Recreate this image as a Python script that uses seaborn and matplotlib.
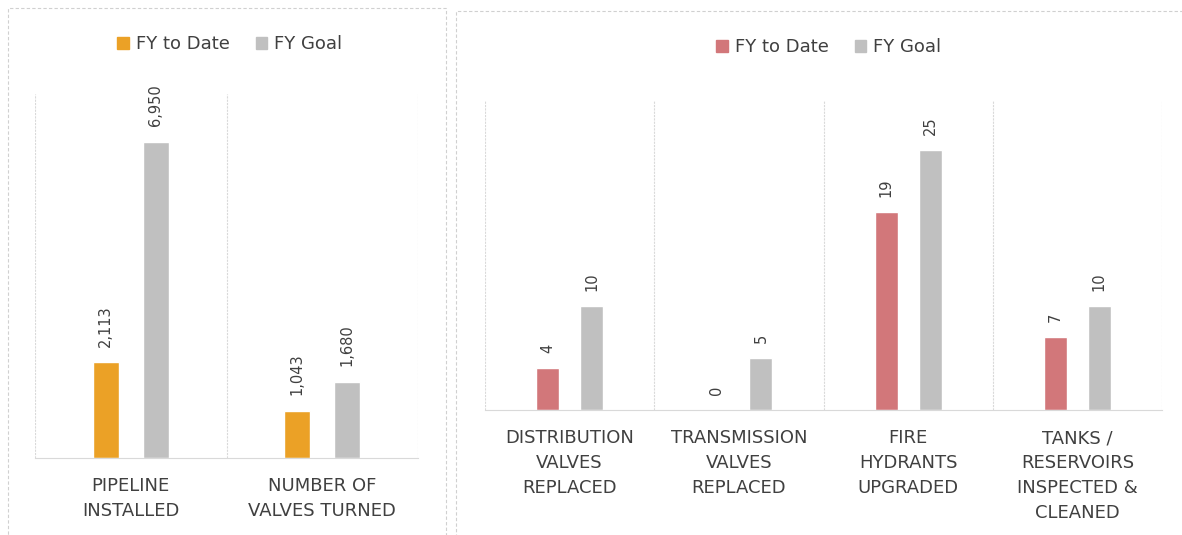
import pandas as pd
import numpy as np
import matplotlib.pyplot as plt
import seaborn as sns
from matplotlib.patches import Rectangle

# data
series = ['FY to Date', 'FY Goal']

left_cats = ['PIPELINE\nINSTALLED', 'NUMBER OF\nVALVES TURNED']
left_to_date = [2113, 1043]
left_goal = [6950, 1680]

right_cats = ['DISTRIBUTION\nVALVES\nREPLACED', 'TRANSMISSION\nVALVES\nREPLACED',
              'FIRE\nHYDRANTS\nUPGRADED', 'TANKS /\nRESERVOIRS\nINSPECTED &\nCLEANED']
right_to_date = [4, 0, 19, 7]
right_goal = [10, 5, 25, 10]

orange = '#EBA126'
pink = '#D2777A'
grey = '#C0C0C0'
text_col = '#404040'
line_col = '#D9D9D9'


def long_df(cats, a, b):
    return pd.DataFrame({
        'category': cats * 2,
        'series': [series[0]] * len(cats) + [series[1]] * len(cats),
        'value': list(a) + list(b),
    })


sns.set_theme(style='white')
plt.rcParams['font.family'] = ['DejaVu Sans']

fig = plt.figure(figsize=(11.82, 5.35), dpi=100)

# panel frames (scanned report look)
for x0, y0, x1, y1 in [(8, 8, 446, 540), (456, 11, 1190, 540)]:
    fig.add_artist(Rectangle((x0 / 1182, 1 - y1 / 535), (x1 - x0) / 1182, (y1 - y0) / 535,
                             transform=fig.transFigure, fill=False, edgecolor='#D0D0D0',
                             linewidth=0.8, linestyle=(0, (3, 2))))

ax_l = fig.add_axes([35 / 1182, 1 - 458 / 535, 383 / 1182, 364 / 535])
ax_r = fig.add_axes([485 / 1182, 1 - 410 / 535, 677 / 1182, 310 / 535])


def draw(ax, df, color_a, ymax, legend_xy):
    sns.barplot(data=df, x='category', y='value', hue='series', ax=ax,
                palette=[color_a, grey], width=0.52, gap=0.48,
                saturation=1, legend=False)
    for cont in ax.containers:
        vals = cont.datavalues
        ax.bar_label(cont, labels=[f'{int(v):,}' for v in vals], rotation=90,
                     padding=11, fontsize=10.5, color=text_col)
    n = df['category'].nunique()
    ax.set_xlim(-0.5, n - 0.5)
    ax.set_ylim(0, ymax)
    ax.set_xticks(np.arange(-0.5, n, 1.0), minor=True)
    ax.grid(True, which='minor', axis='x', color=line_col, linewidth=0.8, linestyle=(0, (2, 1)))
    ax.grid(False, which='major')
    ax.set_yticks([])
    ax.set_xlabel('')
    ax.set_ylabel('')
    for s in ['top', 'left', 'right']:
        ax.spines[s].set_visible(False)
    ax.spines['bottom'].set_color(line_col)
    ax.spines['bottom'].set_linewidth(0.8)
    ax.tick_params(axis='x', which='both', length=0, pad=14, labelsize=13,
                   labelcolor=text_col)
    for lab in ax.get_xticklabels():
        lab.set_linespacing(1.48)
        lab.set_verticalalignment('top')
    handles = [Rectangle((0, 0), 1, 1, color=color_a), Rectangle((0, 0), 1, 1, color=grey)]
    fig.legend(handles, series, loc='center', bbox_to_anchor=legend_xy, ncol=2,
               frameon=False, fontsize=13, handlelength=0.65, handleheight=0.65,
               handletextpad=0.4, columnspacing=1.4, labelcolor=text_col)


draw(ax_l, long_df(left_cats, left_to_date, left_goal), orange, 8000, (230 / 1182, 1 - 44 / 535))
draw(ax_r, long_df(right_cats, right_to_date, right_goal), pink, 29.8, (829 / 1182, 1 - 47 / 535))

fig.savefig('out.png', dpi=100, facecolor='white')
